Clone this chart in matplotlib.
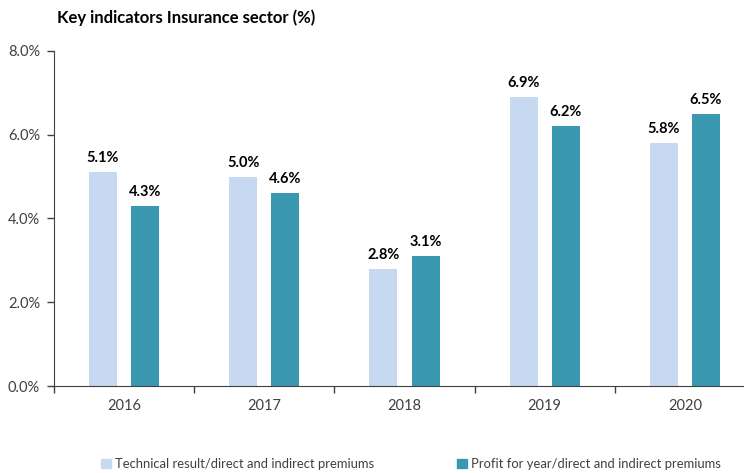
import matplotlib
matplotlib.use("Agg")
import matplotlib.pyplot as plt
import numpy as np
from matplotlib.patches import Patch

# Indicadores clave del sector asegurador (%)
anios = ["2016", "2017", "2018", "2019", "2020"]
resultado_tecnico = [5.1, 5.0, 2.8, 6.9, 5.8]
beneficio_anual = [4.3, 4.6, 3.1, 6.2, 6.5]
etiquetas_series = ["Technical result/direct and indirect premiums",
                    "Profit for year/direct and indirect premiums"]
colores = ["#C6D9F0", "#3A98B0"]

plt.rcParams["font.family"] = ["Lato", "DejaVu Sans"]

fig = plt.figure(figsize=(7.44, 4.73), dpi=100)
ax = fig.add_axes([54 / 744, 87 / 473, 701 / 744, 335 / 473])

x = np.arange(len(anios))
ancho = 0.2
desp = 0.15
b1 = ax.bar(x - desp, resultado_tecnico, ancho, color=colores[0])
b2 = ax.bar(x + desp, beneficio_anual, ancho, color=colores[1])

for barras, vals in ((b1, resultado_tecnico), (b2, beneficio_anual)):
    for b, v in zip(barras, vals):
        ax.annotate(f"{v:.1f}%", (b.get_x() + b.get_width() / 2, v),
                    xytext=(0, 5), textcoords="offset points",
                    ha="center", va="bottom", fontsize=10.5,
                    fontweight="bold", color="black")

ax.set_xlim(-0.5, len(anios) - 0.5)
ax.set_ylim(0, 8)
ax.set_yticks([0, 2, 4, 6, 8])
ax.set_yticklabels([f"{v:.1f}%" for v in [0, 2, 4, 6, 8]])
ax.set_xticks(x)
ax.set_xticklabels(anios)
ax.set_xticks(np.arange(len(anios) + 1) - 0.5, minor=True)
ax.tick_params(axis="x", which="major", length=0, pad=9,
               labelsize=10.5, labelcolor="#404040")
ax.tick_params(axis="x", which="minor", length=5, width=1, color="#404040")
ax.tick_params(axis="y", length=5, width=1, color="#404040",
               labelsize=10.5, labelcolor="#404040", pad=5)

for lado in ("top", "right"):
    ax.spines[lado].set_visible(False)
ax.spines["left"].set_color("#404040")
ax.spines["bottom"].set_color("#404040")

fig.text(57 / 744, 1 - 18 / 473, "Key indicators Insurance sector (%)",
         fontsize=12, fontweight="bold", va="center", ha="left")

handles = [Patch(color=c) for c in colores]
fig.legend(handles, etiquetas_series, loc="center", ncol=2,
           bbox_to_anchor=(411 / 744, 1 - 464 / 473), frameon=False,
           fontsize=9.4, handlelength=0.75, handleheight=0.75,
           handletextpad=0.3, columnspacing=6.4, labelcolor="#404040")

fig.savefig("out.png", dpi=100)
